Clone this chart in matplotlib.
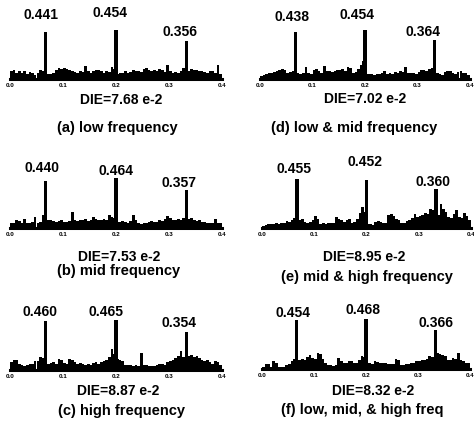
import numpy as np
import matplotlib
matplotlib.use('Agg')
import matplotlib.pyplot as plt

plt.rcParams['font.family'] = ['Liberation Sans', 'DejaVu Sans']
plt.rcParams['font.weight'] = 'bold'

panels = ['a', 'd', 'b', 'e', 'c', 'f']
captions = {
    'a': '(a) low frequency',
    'b': '(b) mid frequency',
    'c': '(c) high frequency',
    'd': '(d) low & mid frequency',
    'e': '(e) mid & high frequency',
    'f': '(f) low, mid, & high freq',
}
die_values = {'a': '7.68', 'b': '7.53', 'c': '8.87', 'd': '7.02', 'e': '8.95', 'f': '8.32'}

peak_freqs = [0.067, 0.2, 0.333]
peak_values = {
    'a': [0.441, 0.454, 0.356],
    'b': [0.440, 0.464, 0.357],
    'c': [0.460, 0.465, 0.354],
    'd': [0.438, 0.454, 0.364],
    'e': [0.455, 0.452, 0.360],
    'f': [0.454, 0.468, 0.366],
}

bin_width = 0.005
noise_a = [0.07, 0.08, 0.06, 0.075, 0.06, 0.07, 0.05, 0.065, 0.055, 0.04,
           0.06, 0.08, 0.075, 0.06, 0.05, 0.045, 0.06, 0.085, 0.10, 0.09,
           0.105, 0.095, 0.08, 0.07, 0.065, 0.06, 0.07, 0.065, 0.12, 0.075,
           0.06, 0.07, 0.08, 0.085, 0.07, 0.06, 0.075, 0.065, 0.11, 0.09,
           0.05, 0.06, 0.055, 0.07, 0.06, 0.065, 0.08, 0.07, 0.075, 0.065,
           0.09, 0.10, 0.08, 0.07, 0.085, 0.07, 0.095, 0.08, 0.065, 0.13,
           0.07, 0.06, 0.065, 0.055, 0.07, 0.10, 0.09, 0.075, 0.09, 0.08,
           0.085, 0.07, 0.075, 0.065, 0.06, 0.07, 0.075, 0.06, 0.13, 0.05]
noise_d = [0.03, 0.035, 0.05, 0.06, 0.055, 0.065, 0.075, 0.08, 0.09, 0.085,
           0.06, 0.065, 0.07, 0.08, 0.055, 0.05, 0.06, 0.11, 0.06, 0.05,
           0.085, 0.09, 0.07, 0.06, 0.12, 0.075, 0.07, 0.065, 0.07, 0.08,
           0.085, 0.09, 0.075, 0.115, 0.10, 0.06, 0.065, 0.09, 0.13, 0.17,
           0.05, 0.045, 0.05, 0.04, 0.05, 0.045, 0.055, 0.07, 0.05, 0.055,
           0.05, 0.065, 0.06, 0.07, 0.065, 0.11, 0.06, 0.055, 0.06, 0.05,
           0.065, 0.08, 0.085, 0.07, 0.09, 0.10, 0.15, 0.06, 0.05, 0.04,
           0.065, 0.07, 0.075, 0.06, 0.05, 0.065, 0.07, 0.055, 0.06, 0.04]
noise_b = [0.05, 0.045, 0.07, 0.065, 0.05, 0.08, 0.05, 0.045, 0.055, 0.10,
           0.05, 0.06, 0.12, 0.09, 0.07, 0.075, 0.065, 0.06, 0.065, 0.07,
           0.06, 0.055, 0.065, 0.15, 0.07, 0.065, 0.075, 0.07, 0.08, 0.065,
           0.07, 0.10, 0.085, 0.07, 0.075, 0.08, 0.07, 0.12, 0.10, 0.09,
           0.06, 0.055, 0.065, 0.06, 0.05, 0.065, 0.12, 0.07, 0.045, 0.04,
           0.05, 0.045, 0.06, 0.065, 0.055, 0.06, 0.07, 0.065, 0.08, 0.11,
           0.09, 0.07, 0.075, 0.08, 0.07, 0.09, 0.10, 0.08, 0.09, 0.07,
           0.065, 0.07, 0.06, 0.055, 0.05, 0.045, 0.05, 0.085, 0.05, 0.045]
noise_e = [0.02, 0.025, 0.04, 0.035, 0.04, 0.045, 0.04, 0.05, 0.045, 0.065,
           0.06, 0.07, 0.09, 0.08, 0.075, 0.08, 0.06, 0.05, 0.055, 0.07,
           0.11, 0.08, 0.04, 0.045, 0.04, 0.05, 0.045, 0.05, 0.10, 0.085,
           0.07, 0.06, 0.075, 0.08, 0.05, 0.055, 0.08, 0.14, 0.20, 0.15,
           0.04, 0.035, 0.03, 0.06, 0.065, 0.055, 0.05, 0.045, 0.12, 0.13,
           0.11, 0.085, 0.07, 0.05, 0.045, 0.065, 0.07, 0.09, 0.13, 0.10,
           0.11, 0.12, 0.14, 0.13, 0.18, 0.17, 0.15, 0.12, 0.22, 0.18,
           0.15, 0.10, 0.09, 0.13, 0.17, 0.10, 0.09, 0.14, 0.11, 0.07]
noise_c = [0.07, 0.095, 0.09, 0.06, 0.045, 0.04, 0.05, 0.06, 0.055, 0.08,
           0.085, 0.12, 0.11, 0.13, 0.06, 0.065, 0.07, 0.06, 0.10, 0.09,
           0.065, 0.06, 0.10, 0.095, 0.075, 0.06, 0.065, 0.055, 0.05, 0.06,
           0.05, 0.065, 0.07, 0.06, 0.07, 0.085, 0.095, 0.12, 0.20, 0.15,
           0.10, 0.09, 0.08, 0.05, 0.045, 0.05, 0.04, 0.045, 0.035, 0.16,
           0.05, 0.045, 0.04, 0.035, 0.04, 0.05, 0.055, 0.06, 0.05, 0.07,
           0.085, 0.09, 0.11, 0.13, 0.18, 0.12, 0.10, 0.13, 0.14, 0.12,
           0.13, 0.11, 0.09, 0.08, 0.095, 0.07, 0.06, 0.085, 0.07, 0.05]
noise_f = [0.02, 0.05, 0.045, 0.02, 0.07, 0.06, 0.015, 0.015, 0.02, 0.04,
           0.045, 0.07, 0.09, 0.10, 0.085, 0.09, 0.08, 0.11, 0.13, 0.10,
           0.095, 0.15, 0.14, 0.09, 0.06, 0.04, 0.035, 0.03, 0.035, 0.10,
           0.07, 0.06, 0.055, 0.07, 0.075, 0.06, 0.055, 0.08, 0.12, 0.11,
           0.06, 0.055, 0.05, 0.07, 0.065, 0.06, 0.055, 0.06, 0.05, 0.045,
           0.05, 0.09, 0.08, 0.04, 0.035, 0.045, 0.05, 0.06, 0.055, 0.07,
           0.075, 0.08, 0.085, 0.09, 0.12, 0.11, 0.10, 0.15, 0.14, 0.13,
           0.12, 0.08, 0.085, 0.10, 0.09, 0.15, 0.085, 0.07, 0.06, 0.055]
noise = {'a': noise_a, 'b': noise_b, 'c': noise_c, 'd': noise_d, 'e': noise_e, 'f': noise_f}

# layout in pixels: axis left, axis right, baseline, DIE (x, y), caption (x, y)
W, H = 474, 429
AX_H = 74
YMAX = 0.69
layout = {
    'a': (10, 222, 79, (121, 100), (117, 128)),
    'd': (260, 470, 79, (365, 99), (354, 128)),
    'b': (10, 222, 228, (119, 257), (119, 271)),
    'e': (262, 471, 228, (364, 257), (367, 277)),
    'c': (10, 222, 370, (118, 391), (121, 411)),
    'f': (262, 470, 369, (373, 391), (362, 410)),
}
# peak label offsets from the peak foot (dx, dy) in pixels
label_off = {
    'a': [(-5, 64), (-6, 66), (-6, 47)],
    'd': [(-3, 62), (-8, 64), (-12, 47)],
    'b': [(-4, 60), (0, 57), (-7, 45)],
    'e': [(-3, 59), (-2, 66), (-3, 46)],
    'c': [(-6, 58), (-10, 58), (-7, 47)],
    'f': [(-4, 56), (-3, 59), (1, 46)],
}

fig = plt.figure(figsize=(W / 100, H / 100), dpi=100)

for p in panels:
    left, right, base, die_xy, cap_xy = layout[p]
    ax = fig.add_axes([left / W, (H - base) / H, (right - left) / W, AX_H / H])
    vals = noise[p]
    xs = np.arange(len(vals)) * bin_width
    ax.bar(xs, vals, width=bin_width, align='edge', color='black', linewidth=0)
    ax.bar(peak_freqs, peak_values[p], width=0.006, color='black', linewidth=0)

    for f, v, (dx, dy) in zip(peak_freqs, peak_values[p], label_off[p]):
        ax.annotate(f'{v:.3f}', xy=(f, 0), xytext=(dx * 0.72, dy * 0.72),
                    textcoords='offset points', ha='center', va='center',
                    fontsize=10, fontweight='bold')

    ax.set_xlim(0, 0.4)
    ax.set_ylim(0, YMAX)
    ax.set_xticks([0.0, 0.1, 0.2, 0.3, 0.4])
    ax.set_xticklabels(['0.0', '0.1', '0.2', '0.3', '0.4'], fontsize=4.5, fontweight='bold')
    ax.tick_params(axis='x', length=0, pad=3)
    ax.set_yticks([])
    for s in ['left', 'right', 'top']:
        ax.spines[s].set_visible(False)
    ax.spines['bottom'].set_linewidth(2.2)
    ax.patch.set_alpha(0)

    fig.text(die_xy[0] / W, 1 - die_xy[1] / H, f'DIE={die_values[p]} e-2',
             ha='center', va='center', fontsize=10, fontweight='bold')
    fig.text(cap_xy[0] / W, 1 - cap_xy[1] / H, captions[p],
             ha='center', va='center', fontsize=10.5, fontweight='bold')

fig.savefig('out.png', dpi=100)
